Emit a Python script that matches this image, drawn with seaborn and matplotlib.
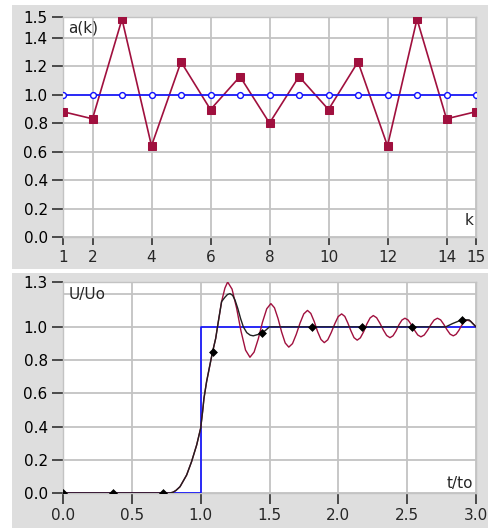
import matplotlib
matplotlib.use("Agg")
import matplotlib.pyplot as plt
import seaborn as sns
import pandas as pd
from matplotlib.patches import Rectangle

# ---- upper panel: coefficients a(k) ----
k_values = list(range(1, 16))
a_k = [0.88, 0.83, 1.53, 0.64, 1.23, 0.895, 1.127, 0.80,
       1.127, 0.895, 1.23, 0.64, 1.53, 0.83, 0.88]
a_ref = [1.0] * 15
k_ticks = [1, 2, 4, 6, 8, 10, 12, 14, 15]
a_tick_vals = [0.0, 0.2, 0.4, 0.6, 0.8, 1.0, 1.2, 1.4, 1.545]
a_tick_labels = ["0.0", "0.2", "0.4", "0.6", "0.8", "1.0", "1.2", "1.4", "1.5"]

# ---- lower panel: step responses U/Uo over t/to ----
step_t = [0.0, 1.0, 1.0, 3.0]
step_u = [0.0, 0.0, 1.0, 1.0]

rise_t = [0.0, 0.362, 0.724, 0.777, 0.80, 0.82, 0.85, 0.898, 0.934, 0.971,
          1.0, 1.014, 1.024, 1.043, 1.067, 1.086, 1.109, 1.128, 1.152]
rise_u = [0.0, 0.0, 0.0, 0.0, 0.005, 0.015, 0.038, 0.108, 0.189, 0.289,
          0.39, 0.49, 0.57, 0.67, 0.77, 0.848, 0.93, 1.03, 1.152]

osc_t = [1.176, 1.196,
         1.228, 1.261, 1.293, 1.326, 1.358,
         1.388, 1.419, 1.449, 1.480, 1.510,
         1.536, 1.562, 1.588, 1.614, 1.640,
         1.667, 1.694, 1.722, 1.749, 1.776,
         1.800, 1.825, 1.849, 1.874, 1.898,
         1.923, 1.948, 1.974, 1.999, 2.024,
         2.047, 2.069, 2.092, 2.114, 2.137,
         2.160, 2.184, 2.207, 2.231, 2.254,
         2.278, 2.302, 2.327, 2.351, 2.375,
         2.397, 2.419, 2.440, 2.462, 2.484,
         2.507, 2.530, 2.554, 2.577, 2.600,
         2.624, 2.648, 2.672, 2.696, 2.720,
         2.743, 2.766, 2.789, 2.812, 2.835,
         2.855, 2.875, 2.895, 2.915, 2.935,
         2.960, 2.980, 3.0]
osc_u = [1.233, 1.27,
         1.227, 1.113, 0.974, 0.860, 0.817,
         0.848, 0.929, 1.028, 1.109, 1.140,
         1.115, 1.050, 0.969, 0.903, 0.878,
         0.899, 0.954, 1.023, 1.078, 1.099,
         1.081, 1.032, 0.972, 0.924, 0.905,
         0.922, 0.965, 1.018, 1.062, 1.078,
         1.063, 1.023, 0.975, 0.935, 0.920,
         0.934, 0.971, 1.017, 1.054, 1.068,
         1.055, 1.022, 0.981, 0.948, 0.935,
         0.946, 0.975, 1.012, 1.041, 1.052,
         1.041, 1.013, 0.979, 0.951, 0.940,
         0.951, 0.979, 1.013, 1.041, 1.052,
         1.042, 1.015, 0.983, 0.956, 0.946,
         0.955, 0.978, 1.008, 1.031, 1.040,
         1.035, 1.018, 1.0]

damp_t = [1.176, 1.195, 1.213, 1.232, 1.25, 1.27, 1.29, 1.31, 1.335, 1.36,
          1.382, 1.42, 1.448, 1.47, 1.50, 1.81, 2.172, 2.534, 2.78, 2.83,
          2.896, 2.95, 3.0]
damp_u = [1.178, 1.195, 1.20, 1.19, 1.16, 1.11, 1.05, 1.0, 0.965, 0.95,
          0.946, 0.955, 0.966, 0.978, 1.0, 1.0, 1.0, 1.0, 1.0, 1.02,
          1.042, 1.042, 1.0]

mark_t = [0.0, 0.362, 0.724, 1.086, 1.448, 1.81, 2.172, 2.534, 2.896]
mark_u = [0.0, 0.0, 0.0, 0.848, 0.966, 1.0, 1.0, 1.0, 1.042]

t_ticks = [0.0, 0.5, 1.0, 1.5, 2.0, 2.5, 3.0]
t_tick_labels = ["0.0", "0.5", "1.0", "1.5", "2.0", "2.5", "3.0"]
u_tick_vals = [0.0, 0.2, 0.4, 0.6, 0.8, 1.0, 1.27]
u_tick_labels = ["0.0", "0.2", "0.4", "0.6", "0.8", "1.0", "1.3"]

sns.set_theme(style="white")
plt.rcParams["font.family"] = ["DejaVu Sans"]

W, H = 489, 528
PANEL = "#dedede"
GRID = "#c3c3c3"
CRIMSON = "#a0103e"
BLUE = "#1010ff"

fig = plt.figure(figsize=(W / 100, H / 100), dpi=100, facecolor="white")
# grey panel backgrounds
fig.add_artist(Rectangle((12 / W, (H - 269) / H), 1 - 12 / W, 264 / H,
                         transform=fig.transFigure, facecolor=PANEL,
                         edgecolor="none", zorder=-5))
fig.add_artist(Rectangle((12 / W, 0), 1 - 12 / W, (H - 273) / H,
                         transform=fig.transFigure, facecolor=PANEL,
                         edgecolor="none", zorder=-5))

ax1 = fig.add_axes([63 / W, (H - 237) / H, 413 / W, 220 / H])
ax2 = fig.add_axes([63 / W, (H - 493) / H, 413 / W, 211 / H])

df_a = pd.DataFrame({"k": k_values, "a": a_k, "ref": a_ref})

sns.lineplot(data=df_a, x="k", y="a", ax=ax1, color=CRIMSON, lw=1.2,
             marker="s", markersize=5.2, markeredgecolor=CRIMSON,
             markerfacecolor=CRIMSON, sort=False, estimator=None, zorder=3)
sns.lineplot(data=df_a, x="k", y="ref", ax=ax1, color=BLUE, lw=1.2,
             marker="o", markersize=4.2, markeredgecolor=BLUE,
             markerfacecolor="white", markeredgewidth=1.0,
             sort=False, estimator=None, zorder=4)

sns.lineplot(x=step_t, y=step_u, ax=ax2, color=BLUE, lw=1.2,
             sort=False, estimator=None, zorder=3)
sns.lineplot(x=rise_t + osc_t, y=rise_u + osc_u, ax=ax2, color=CRIMSON,
             lw=1.0, sort=False, estimator=None, zorder=4)
sns.lineplot(x=rise_t + damp_t, y=rise_u + damp_u, ax=ax2, color="#202020",
             lw=1.0, sort=False, estimator=None, zorder=5)
sns.scatterplot(x=mark_t, y=mark_u, ax=ax2, color="black", marker="D",
                s=16, edgecolor="black", linewidth=0.5, zorder=6)

for ax in (ax1, ax2):
    ax.set_facecolor("white")
    ax.set_xlabel("")
    ax.set_ylabel("")
    for sp in ax.spines.values():
        sp.set_color(GRID)
        sp.set_linewidth(1.0)
    ax.grid(True, which="both", color=GRID, lw=1.3)
    ax.set_axisbelow(True)
    ax.tick_params(axis="y", which="major", direction="out", length=8,
                   width=1.2, color="#303030", pad=3, labelsize=11,
                   labelcolor="black", left=True)
    ax.tick_params(axis="y", which="minor", length=0)

ax1.set_xlim(1, 15)
ax1.set_ylim(0, 1.545)
ax1.set_xticks(k_ticks)
ax1.set_xticklabels([str(v) for v in k_ticks])
ax1.set_yticks(a_tick_vals)
ax1.set_yticklabels(a_tick_labels)
ax1.tick_params(axis="x", direction="out", length=6, width=1.2,
                color="#303030", pad=3, labelsize=11, bottom=True)
ax1.text(0.013, 0.985, "a(k)", transform=ax1.transAxes, ha="left",
         va="top", fontsize=11)
ax1.text(0.993, 0.04, "k", transform=ax1.transAxes, ha="right",
         va="bottom", fontsize=11)

ax2.set_xlim(0, 3)
ax2.set_ylim(0, 1.27)
ax2.set_xticks(t_ticks)
ax2.set_xticklabels(t_tick_labels)
ax2.set_yticks(u_tick_vals)
ax2.set_yticklabels(u_tick_labels)
ax2.set_yticks([1.2], minor=True)
ax2.tick_params(axis="x", direction="out", length=8, width=1.2,
                color="#303030", pad=3, labelsize=11, bottom=True)
ax2.text(0.013, 0.975, "U/Uo", transform=ax2.transAxes, ha="left",
         va="top", fontsize=11)
ax2.text(0.993, 0.01, "t/to", transform=ax2.transAxes, ha="right",
         va="bottom", fontsize=11)

fig.savefig("out.png", dpi=100, facecolor="white")
